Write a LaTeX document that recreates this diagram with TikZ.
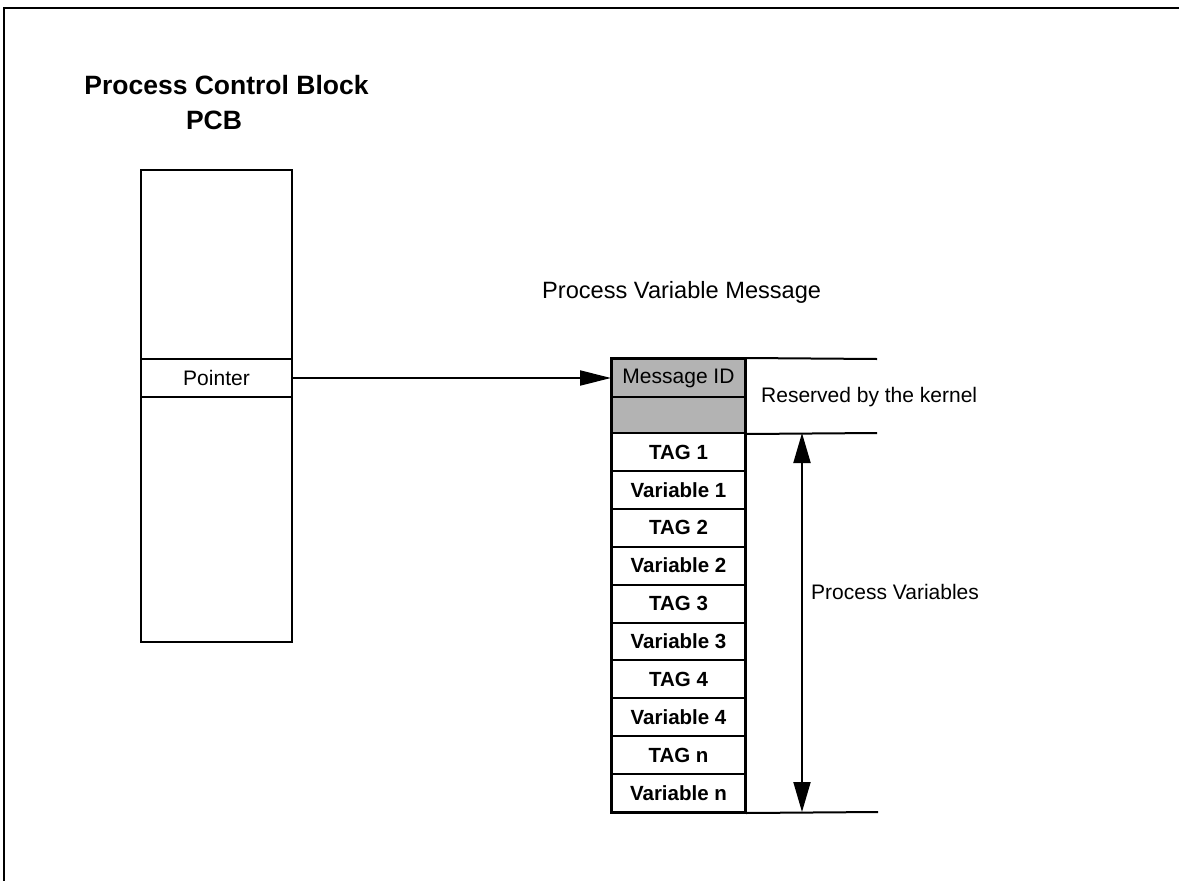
\documentclass[tikz,border=0pt]{standalone}
\usepackage{fontspec}
\setmainfont{Liberation Sans}
\usetikzlibrary{arrows.meta}
\definecolor{kgray}{RGB}{179,179,179}
\begin{document}
\begin{tikzpicture}[x=1pt,y=-1pt,
  frame/.style={line width=2pt},
  pcbbox/.style={draw, line width=2pt, minimum width=151pt, inner sep=0pt},
  cell/.style={draw, line width=2pt, minimum width=133pt, minimum height=37.9pt, inner sep=0pt, font=\fontsize{20.5}{24}\bfseries},
  kcell/.style={draw, line width=2pt, fill=kgray, minimum width=133pt, inner sep=0pt, font=\fontsize{21}{25}\selectfont},
  lbl/.style={inner sep=0pt, font=\fontsize{21}{25}\selectfont},
  ttl/.style={inner sep=0pt, font=\fontsize{26.5}{30}\bfseries},
  guide/.style={line width=2pt},
  ptrarrow/.style={line width=2pt, -{Triangle[length=31pt,width=15pt]}},
  dimarrow/.style={line width=2pt, {Triangle[length=30pt,width=17pt]}-{Triangle[length=30pt,width=17pt]}}
]
\useasboundingbox (0,0) rectangle (1179,881);
\draw[frame] (1179,8) -- (4,8) -- (4,881);

% title
\node[ttl] (t1) at (226.5,85) {Process Control Block};
\node[ttl] (t2) at (214,120) {PCB};

% PCB
\node[pcbbox, minimum height=189pt] (pcbtop) at (216.5,264.5) {};
\node[pcbbox, minimum height=38pt, font=\fontsize{21}{25}\selectfont] (ptr) at (216.5,378) {Pointer};
\node[pcbbox, minimum height=245pt] (pcbbot) at (216.5,519.5) {};

% message
\node[lbl, anchor=west, font=\fontsize{23.6}{28}\selectfont] (pvm) at (542,292) {Process Variable Message};
\node[kcell, minimum height=38pt] (msgid) at (678.5,378) {Message ID};
\node[kcell, minimum height=36pt] (res) at (678.5,415) {};

\foreach \i/\t in {0/TAG 1,1/Variable 1,2/TAG 2,3/Variable 2,4/TAG 3,5/Variable 3,6/TAG 4,7/Variable 4,8/TAG n,9/Variable n}{
  \node[cell] (c\i) at (678.5,{433+37.9*(\i+0.5)}) {\t};
}
\draw[line width=2.8pt] (msgid.north west) rectangle (c9.south east);

\coordinate (e1) at (877,359);
\coordinate (e2) at (877,433);
\coordinate (e3) at (878,812);
\draw[guide] (msgid.north east) -- (e1);
\draw[guide] (res.south east) -- (e2);
\draw[guide] (c9.south east) -- (e3);

\node[lbl, anchor=west] (rk) at (761,397) {Reserved by the kernel};

\coordinate (at) at (802,433);
\coordinate (ab) at (802,812);
\draw[dimarrow] (at) -- (ab);
\node[lbl, anchor=west] (pv) at (811,592) {Process Variables};

\draw[ptrarrow] (ptr.east) -- (msgid.west);
\end{tikzpicture}
\end{document}
